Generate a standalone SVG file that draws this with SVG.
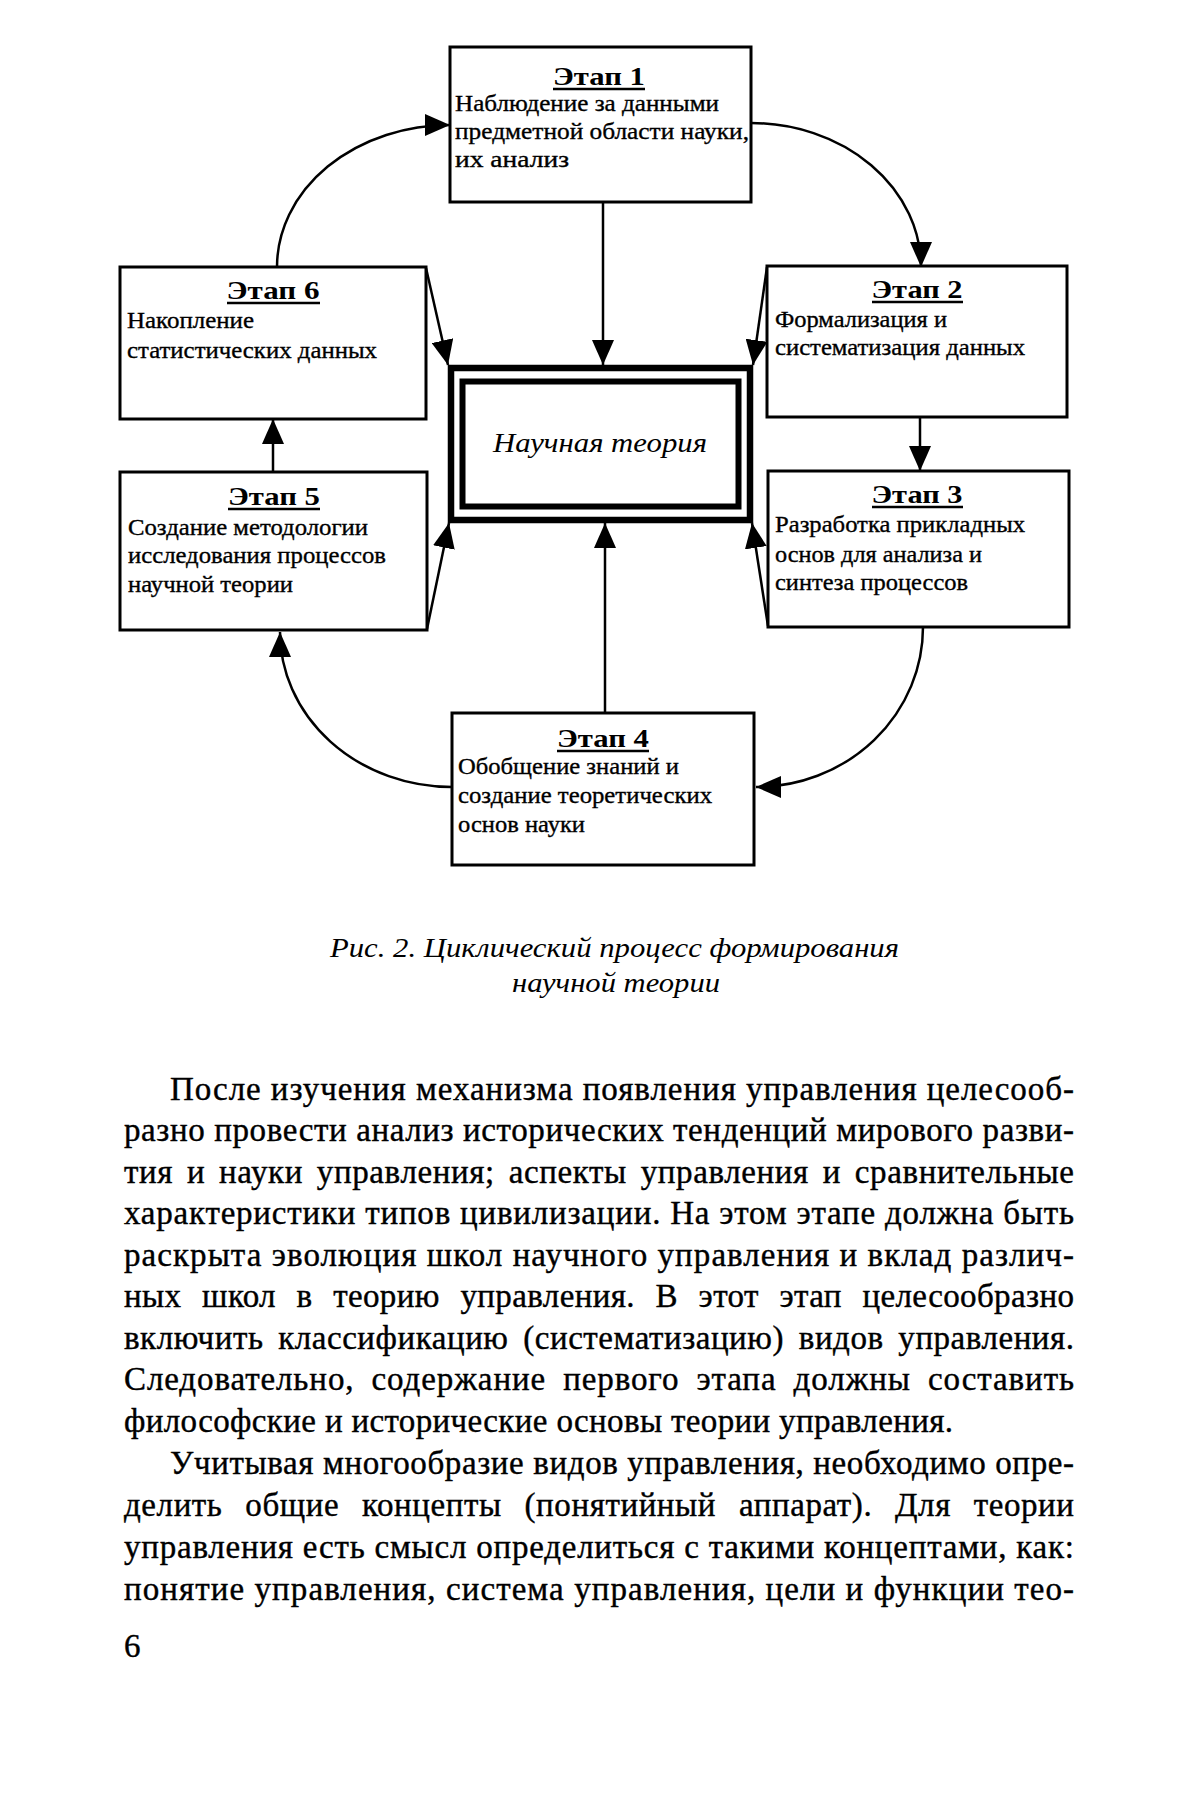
<svg xmlns="http://www.w3.org/2000/svg" width="1200" height="1802" viewBox="0 0 1200 1802">
<style>
.box{fill:#fff;stroke:#000;stroke-width:3}
.t{font-family:"Liberation Serif","Times New Roman",serif;font-weight:bold;font-size:26px;text-anchor:middle;fill:#000}
.b{font-family:"Liberation Serif","Times New Roman",serif;font-size:23px;fill:#000;stroke:#000;stroke-width:0.35}
.ul{stroke:#000;stroke-width:2.5}
.c{fill:none;stroke:#000;stroke-width:2.5}
.p{font-family:"Liberation Serif","Times New Roman",serif;font-size:33px;fill:#000;stroke:#000;stroke-width:0.4}
.cap{font-family:"Liberation Serif","Times New Roman",serif;font-style:italic;font-size:27px;fill:#000}
</style>
<defs>
<marker id="arr" markerUnits="userSpaceOnUse" markerWidth="25" markerHeight="22" viewBox="0 0 25 22" refX="25" refY="11" orient="auto">
<path d="M0,0 L25,11 L0,22 z" fill="#000"/>
</marker>
</defs>
<rect x="0" y="0" width="1200" height="1802" fill="#fff"/>

<g id="connectors">
<path class="c" d="M603,202 L603,365" marker-end="url(#arr)"/>
<path class="c" d="M605,713 L605,523" marker-end="url(#arr)"/>
<path class="c" d="M426,268 L448,365" marker-end="url(#arr)"/>
<path class="c" d="M767,267 L753,365" marker-end="url(#arr)"/>
<path class="c" d="M427,629 L449,523" marker-end="url(#arr)"/>
<path class="c" d="M768,626 L752,523" marker-end="url(#arr)"/>
<path class="c" d="M920,417 L920,471" marker-end="url(#arr)"/>
<path class="c" d="M273,472 L273,419" marker-end="url(#arr)"/>
<path class="c" d="M277,267 A173,142 0 0 1 450,125" marker-end="url(#arr)"/>
<path class="c" d="M751,123 A170,144 0 0 1 921,267" marker-end="url(#arr)"/>
<path class="c" d="M923,627 A167,160 0 0 1 756,787" marker-end="url(#arr)"/>
<path class="c" d="M452,787 A172,155 0 0 1 280,632" marker-end="url(#arr)"/>
</g>

<g id="center">
<rect x="451" y="368" width="299" height="152" fill="#fff" stroke="#000" stroke-width="6.5"/>
<rect x="462.5" y="381.5" width="276" height="125" fill="none" stroke="#000" stroke-width="6"/>
<text class="cap" x="493" y="452" font-size="30" textLength="214" lengthAdjust="spacingAndGlyphs">Научная теория</text>
</g>

<g id="etap1">
<rect class="box" x="450" y="47" width="301" height="155"/>
<text class="t" x="599" y="85" textLength="92" lengthAdjust="spacingAndGlyphs">Этап 1</text>
<line class="ul" x1="553" y1="89" x2="645" y2="89"/>
<text class="b" x="455" y="111" textLength="264" lengthAdjust="spacingAndGlyphs">Наблюдение за данными</text>
<text class="b" x="455" y="139" textLength="294" lengthAdjust="spacingAndGlyphs">предметной области науки,</text>
<text class="b" x="455" y="167" textLength="114" lengthAdjust="spacingAndGlyphs">их анализ</text>
</g>

<g id="etap2">
<rect class="box" x="767" y="266" width="300" height="151"/>
<text class="t" x="917" y="298" textLength="91" lengthAdjust="spacingAndGlyphs">Этап 2</text>
<line class="ul" x1="872" y1="302" x2="963" y2="302"/>
<text class="b" x="775" y="327" textLength="172" lengthAdjust="spacingAndGlyphs">Формализация и</text>
<text class="b" x="775" y="355" textLength="250" lengthAdjust="spacingAndGlyphs">систематизация данных</text>
</g>

<g id="etap3">
<rect class="box" x="768" y="471" width="301" height="156"/>
<text class="t" x="917" y="503" textLength="91" lengthAdjust="spacingAndGlyphs">Этап 3</text>
<line class="ul" x1="872" y1="507" x2="963" y2="507"/>
<text class="b" x="775" y="532" textLength="250" lengthAdjust="spacingAndGlyphs">Разработка прикладных</text>
<text class="b" x="775" y="562" textLength="207" lengthAdjust="spacingAndGlyphs">основ для анализа и</text>
<text class="b" x="775" y="590" textLength="193" lengthAdjust="spacingAndGlyphs">синтеза процессов</text>
</g>

<g id="etap4">
<rect class="box" x="452" y="713" width="302" height="152"/>
<text class="t" x="603" y="747" textLength="92" lengthAdjust="spacingAndGlyphs">Этап 4</text>
<line class="ul" x1="557" y1="751" x2="649" y2="751"/>
<text class="b" x="458" y="774" textLength="221" lengthAdjust="spacingAndGlyphs">Обобщение знаний и</text>
<text class="b" x="458" y="803" textLength="254" lengthAdjust="spacingAndGlyphs">создание теоретических</text>
<text class="b" x="458" y="832" textLength="127" lengthAdjust="spacingAndGlyphs">основ науки</text>
</g>

<g id="etap5">
<rect class="box" x="120" y="472" width="307" height="158"/>
<text class="t" x="274" y="505" textLength="92" lengthAdjust="spacingAndGlyphs">Этап 5</text>
<line class="ul" x1="228" y1="509" x2="320" y2="509"/>
<text class="b" x="128" y="535" textLength="240" lengthAdjust="spacingAndGlyphs">Создание методологии</text>
<text class="b" x="128" y="563" textLength="258" lengthAdjust="spacingAndGlyphs">исследования процессов</text>
<text class="b" x="128" y="592" textLength="165" lengthAdjust="spacingAndGlyphs">научной теории</text>
</g>

<g id="etap6">
<rect class="box" x="120" y="267" width="306" height="152"/>
<text class="t" x="273" y="299" textLength="93" lengthAdjust="spacingAndGlyphs">Этап 6</text>
<line class="ul" x1="227" y1="303" x2="320" y2="303"/>
<text class="b" x="127" y="328" textLength="127" lengthAdjust="spacingAndGlyphs">Накопление</text>
<text class="b" x="127" y="358" textLength="250" lengthAdjust="spacingAndGlyphs">статистических данных</text>
</g>

<g id="caption">
<text class="cap" x="330" y="957" textLength="569" lengthAdjust="spacingAndGlyphs">Рис. 2. Циклический процесс формирования</text>
<text class="cap" x="512" y="992" textLength="208" lengthAdjust="spacingAndGlyphs">научной теории</text>
</g>

<g id="body">
<text class="p" x="170" y="1100" textLength="904" lengthAdjust="spacing">После изучения механизма появления управления целесооб-</text>
<text class="p" x="124" y="1141" textLength="950" lengthAdjust="spacing">разно провести анализ исторических тенденций мирового разви-</text>
<text class="p" x="124" y="1183" textLength="950" lengthAdjust="spacing" word-spacing="5">тия и науки управления; аспекты управления и сравнительные</text>
<text class="p" x="124" y="1224" textLength="950" lengthAdjust="spacing">характеристики типов цивилизации. На этом этапе должна быть</text>
<text class="p" x="124" y="1266" textLength="950" lengthAdjust="spacing">раскрыта эволюция школ научного управления и вклад различ-</text>
<text class="p" x="124" y="1307" textLength="950" lengthAdjust="spacing" word-spacing="12">ных школ в теорию управления. В этот этап целесообразно</text>
<text class="p" x="124" y="1349" textLength="950" lengthAdjust="spacing" word-spacing="6">включить классификацию (систематизацию) видов управления.</text>
<text class="p" x="124" y="1390" textLength="950" lengthAdjust="spacing" word-spacing="8">Следовательно, содержание первого этапа должны составить</text>
<text class="p" x="124" y="1432" textLength="829" lengthAdjust="spacing">философские и исторические основы теории управления.</text>
<text class="p" x="170" y="1474" textLength="904" lengthAdjust="spacing">Учитывая многообразие видов управления, необходимо опре-</text>
<text class="p" x="124" y="1516" textLength="950" lengthAdjust="spacing" word-spacing="14">делить общие концепты (понятийный аппарат). Для теории</text>
<text class="p" x="124" y="1558" textLength="950" lengthAdjust="spacing">управления есть смысл определиться с такими концептами, как:</text>
<text class="p" x="124" y="1600" textLength="950" lengthAdjust="spacing">понятие управления, система управления, цели и функции тео-</text>
<text class="p" x="124" y="1657">6</text>
</g>
</svg>
